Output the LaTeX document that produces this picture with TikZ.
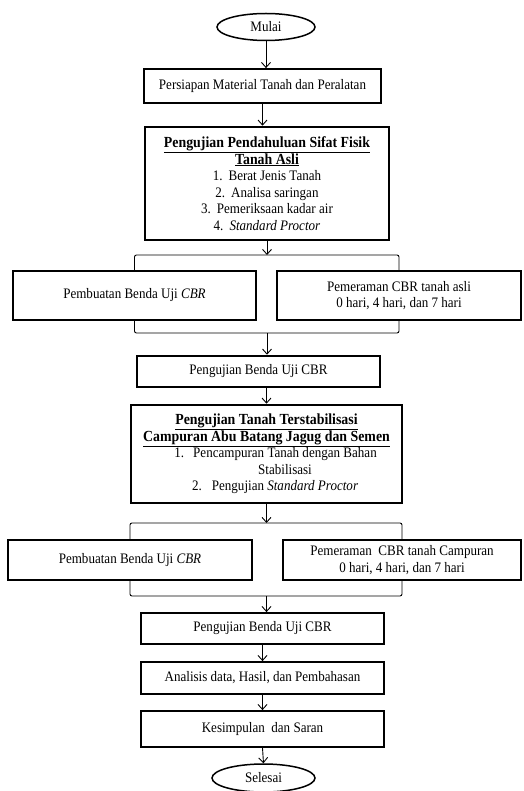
\documentclass[tikz,border=0pt]{standalone}
\usepackage{fontspec}
\setmainfont{Liberation Serif}[FakeStretch=0.9]
\usetikzlibrary{arrows.meta,shapes.geometric}

\newcommand{\headline}[1]{{\fontsize{15.4}{16.5}\selectfont\underline{\textbf{#1}}}}

\tikzset{
  box/.style={draw,line width=1.8pt,inner sep=2pt,align=center,font=\fontsize{14.5}{16.5}\selectfont},
  bigbox/.style={box,line width=2.6pt},
  terminal/.style={ellipse,draw,line width=1.5pt,inner sep=0pt,font=\fontsize{14.5}{16.5}\selectfont},
  link/.style={line width=0.9pt,rounded corners=2pt},
  arr/.style={link,-{Straight Barb[length=5pt,width=9pt]}}
}

\begin{document}
\begin{tikzpicture}[x=1pt,y=-1pt]
  \useasboundingbox (0,0) rectangle (523,791);

  \node[terminal,minimum width=98pt,minimum height=27pt] (Mulai) at (266,27) {Mulai};
  \node[box,minimum width=237pt,minimum height=34pt] (Persiapan) at (262.5,86) {Persiapan Material Tanah dan Peralatan};
  \node[bigbox,minimum width=244pt,minimum height=113pt] (UjiAsli) at (267,183.5) {%
    \headline{Pengujian Pendahuluan Sifat Fisik}\\
    \headline{Tanah Asli}\\
    1.\hspace{6pt}Berat Jenis Tanah\\
    2.\hspace{6pt}Analisa saringan\\
    3.\hspace{6pt}Pemeriksaan kadar air\\
    4.\hspace{6pt}\textit{Standard Proctor}};

  \node[box,minimum width=243pt,minimum height=49pt] (BendaAsli) at (134.5,295.5) {Pembuatan Benda Uji \textit{CBR}};
  \node[box,minimum width=244pt,minimum height=49pt] (PeramAsli) at (399,295.5) {Pemeraman CBR tanah asli\\0 hari, 4 hari, dan 7 hari};
  \coordinate (ForkA) at (267,255);
  \coordinate (JoinA) at (267,333);

  \node[bigbox,minimum width=243pt,minimum height=31pt] (CBRAsli) at (258.5,371.5) {Pengujian Benda Uji CBR};
  \node[bigbox,minimum width=271pt,minimum height=98pt] (UjiStab) at (266.5,454) {%
    \headline{Pengujian Tanah Terstabilisasi}\\
    \headline{Campuran Abu Batang Jagug dan Semen}\\
    \hspace*{37pt}\makebox[0pt][r]{1.\hspace{9pt}}Pencampuran Tanah dengan Bahan\\
    \hspace*{37pt}Stabilisasi\\
    \hspace*{37pt}\makebox[0pt][r]{2.\hspace{10pt}}Pengujian \textit{Standard Proctor}};

  \node[box,minimum width=244pt,minimum height=40pt] (BendaCamp) at (130,560) {Pembuatan Benda Uji \textit{CBR}};
  \node[box,minimum width=238pt,minimum height=40pt] (PeramCamp) at (402,560) {Pemeraman\ \ CBR tanah Campuran\\0 hari, 4 hari, dan 7 hari};
  \coordinate (ForkB) at (266.5,523);
  \coordinate (JoinB) at (266.5,596);

  \node[box,minimum width=243pt,minimum height=31pt] (CBRCamp) at (262.5,628.5) {Pengujian Benda Uji CBR};
  \node[box,minimum width=243pt,minimum height=32pt] (Analisis) at (262.5,678) {Analisis data, Hasil, dan Pembahasan};
  \node[box,minimum width=243pt,minimum height=36pt] (Kesimpulan) at (262.5,729) {Kesimpulan\ \ dan Saran};
  \node[terminal,minimum width=103pt,minimum height=28pt] (Selesai) at (263.5,778) {Selesai};

  \draw[arr] (Mulai.south) -- (Mulai.south |- Persiapan.north);
  \draw[arr] (Persiapan.south) -- (Persiapan.south |- UjiAsli.north);
  \draw[arr] (UjiAsli.south) -- (ForkA);
  \draw[link] (BendaAsli.north) |- (ForkA) -| (PeramAsli.north);
  \draw[link] (BendaAsli.south) |- (JoinA) -| (PeramAsli.south);
  \draw[arr] (JoinA) -- (JoinA |- CBRAsli.north);
  \draw[arr] (CBRAsli.south -| UjiStab.north) -- (UjiStab.north);

  \draw[arr] (UjiStab.south) -- (ForkB);
  \draw[link] (BendaCamp.north) |- (ForkB) -| (PeramCamp.north);
  \draw[link] (BendaCamp.south) |- (JoinB) -| (PeramCamp.south);
  \draw[arr] (JoinB) -- (JoinB |- CBRCamp.north);
  \draw[arr] (CBRCamp.south) -- (Analisis.north);
  \draw[arr] (Analisis.south) -- (Kesimpulan.north);
  \draw[arr] (Kesimpulan.south) -- (Selesai.north);
\end{tikzpicture}
\end{document}
